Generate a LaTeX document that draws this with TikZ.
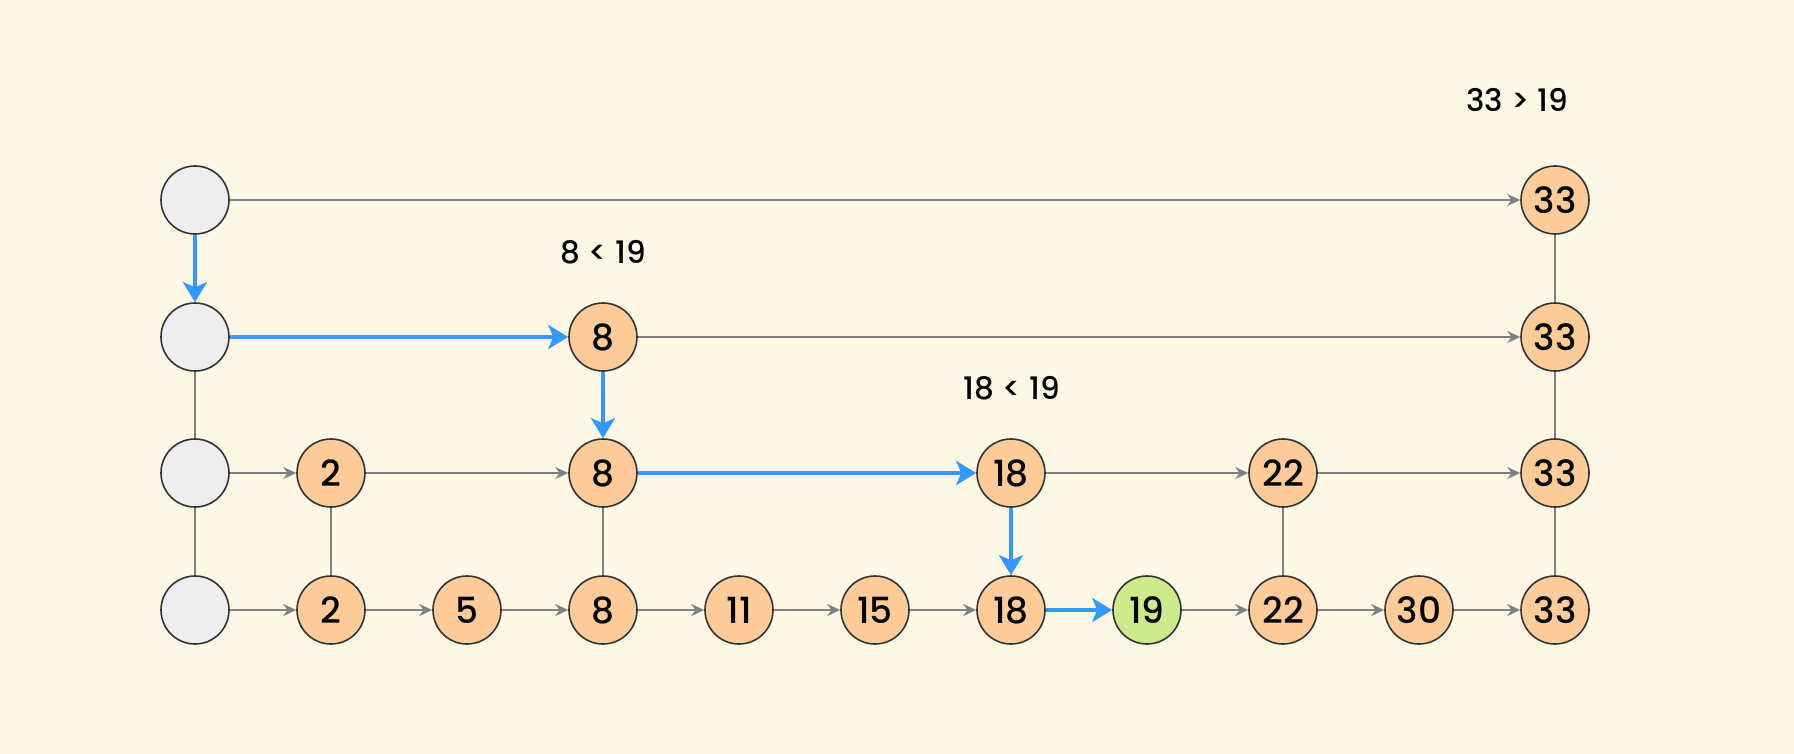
\documentclass[tikz,border=0pt]{standalone}
\usepackage{fontspec}
\setmainfont{Poppins}[UprightFont={* Medium},BoldFont={* SemiBold}]
\usetikzlibrary{arrows.meta}
\definecolor{bg}{HTML}{FEF8E7}
\definecolor{nodeor}{HTML}{FDCC98}
\definecolor{nodegr}{HTML}{EEEEEF}
\definecolor{nodegn}{HTML}{CDEA8C}
\definecolor{linegray}{HTML}{808080}
\definecolor{blueln}{HTML}{3399FF}
\definecolor{rim}{HTML}{333333}
\tikzset{
  x=1pt,y=-1pt,
  nd/.style={circle,draw=rim,line width=1.6pt,minimum size=68pt,inner sep=0pt,fill=nodeor,
    font=\fontsize{36}{40}\selectfont},
  hd/.style={nd,fill=nodegr},
  fnd/.style={nd,fill=nodegn},
  lnk/.style={draw=linegray,line width=2pt},
  arr/.style={lnk,-{Stealth[length=13pt,width=12pt]}},
  barr/.style={draw=blueln,line width=4.5pt,-{Stealth[length=20pt,width=24pt,inset=5pt]}},
  lbl/.style={font=\fontsize{31}{35}\selectfont}
}
\begin{document}
\begin{tikzpicture}
\fill[bg] (0,0) rectangle (1794,754);
\useasboundingbox (0,0) rectangle (1794,754);
% rows
\def\ra{200}\def\rb{337}\def\rc{473}\def\rd{610}
% row 1
\node[hd] (h1) at (195,\ra) {};
\node[nd] (a33) at (1555,\ra) {33};
% row 2
\node[hd] (h2) at (195,\rb) {};
\node[nd] (b8) at (603,\rb) {8};
\node[nd] (b33) at (1555,\rb) {33};
% row 3
\node[hd] (h3) at (195,\rc) {};
\node[nd] (c2) at (331,\rc) {2};
\node[nd] (c8) at (603,\rc) {8};
\node[nd] (c18) at (1011,\rc) {18};
\node[nd] (c22) at (1283,\rc) {22};
\node[nd] (c33) at (1555,\rc) {33};
% row 4
\node[hd] (h4) at (195,\rd) {};
\node[nd] (d2) at (331,\rd) {2};
\node[nd] (d5) at (467,\rd) {5};
\node[nd] (d8) at (603,\rd) {8};
\node[nd] (d11) at (739,\rd) {11};
\node[nd] (d15) at (875,\rd) {15};
\node[nd] (d18) at (1011,\rd) {18};
\node[fnd] (d19) at (1147,\rd) {19};
\node[nd] (d22) at (1283,\rd) {22};
\node[nd] (d30) at (1419,\rd) {30};
\node[nd] (d33) at (1555,\rd) {33};
% labels
\node[lbl] (l1) at (1517,100) {33 > 19};
\node[lbl] (l2) at (603,252) {8 < 19};
\node[lbl] (l3) at (1012,388) {18 < 19};
% horizontal gray arrows
\draw[arr] (h1) -- (a33);
\draw[arr] (b8) -- (b33);
\draw[arr] (h3) -- (c2);
\draw[arr] (c2) -- (c8);
\draw[arr] (c18) -- (c22);
\draw[arr] (c22) -- (c33);
\draw[arr] (h4) -- (d2);
\draw[arr] (d2) -- (d5);
\draw[arr] (d5) -- (d8);
\draw[arr] (d8) -- (d11);
\draw[arr] (d11) -- (d15);
\draw[arr] (d15) -- (d18);
\draw[arr] (d19) -- (d22);
\draw[arr] (d22) -- (d30);
\draw[arr] (d30) -- (d33);
% vertical gray links
\draw[lnk] (h2) -- (h3);
\draw[lnk] (h3) -- (h4);
\draw[lnk] (c2) -- (d2);
\draw[lnk] (c8) -- (d8);
\draw[lnk] (c22) -- (d22);
\draw[lnk] (a33) -- (b33);
\draw[lnk] (b33) -- (c33);
\draw[lnk] (c33) -- (d33);
% blue search path
\draw[barr] (h1) -- (h2);
\draw[barr] (h2) -- (b8);
\draw[barr] (b8) -- (c8);
\draw[barr] (c8) -- (c18);
\draw[barr] (c18) -- (d18);
\draw[barr] (d18) -- (d19);
\end{tikzpicture}
\end{document}
